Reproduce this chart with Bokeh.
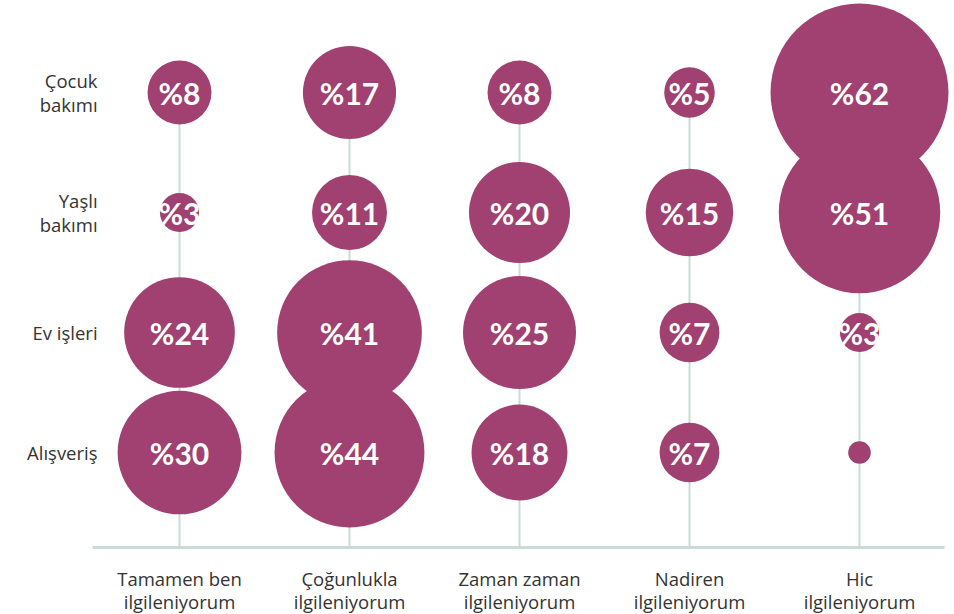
import math
from bokeh.plotting import figure
from bokeh.models import Range1d, ColumnDataSource
from bokeh.core.properties import value
from bokeh.embed import file_html
from bokeh.resources import INLINE

# ---- data ----
columns = ["Tamamen ben\nilgileniyorum", "Çoğunlukla\nilgileniyorum", "Zaman zaman\nilgileniyorum",
           "Nadiren\nilgileniyorum", "Hic\nilgileniyorum"]
rows = ["Çocuk\nbakımı", "Yaşlı\nbakımı", "Ev işleri", "Alışveriş"]
cocuk = [8, 17, 8, 5, 62]
yasli = [3, 11, 20, 15, 51]
ev = [24, 41, 25, 7, 3]
alisveris = [30, 44, 18, 7, 1]
series = [cocuk, yasli, ev, alisveris]

BUBBLE = "#a04171"
LINE = "#c9ddd3"
TEXT = "#333333"
FONT = "Open Sans"
BFONT = "Lato"

W, H = 950, 614
COL_PX0, COL_STEP = 179, 170
ROW_PX0, ROW_STEP = 92, 120

p = figure(width=W, height=H, output_backend="svg", toolbar_location=None,
           x_range=Range1d(-COL_PX0 / COL_STEP, (W - COL_PX0) / COL_STEP),
           y_range=Range1d((H - ROW_PX0) / ROW_STEP, -ROW_PX0 / ROW_STEP),
           min_border=0, outline_line_color=None)
p.axis.visible = False
p.grid.visible = False
p.background_fill_color = "white"
p.border_fill_color = "white"

axis_y = 455 / ROW_STEP  # baseline position in row units

# vertical guide lines
xs = list(range(len(columns)))
p.segment(x0=xs, y0=[0] * len(xs), x1=xs, y1=[axis_y] * len(xs), line_color=LINE, line_width=2)
# baseline
p.segment(x0=[-0.512], y0=[axis_y], x1=[4.5], y1=[axis_y], line_color=LINE, line_width=3)

# bubbles
bx, by, bs, bl = [], [], [], []
for r, vals in enumerate(series):
    for c, v in enumerate(vals):
        bx.append(c)
        by.append(r)
        bs.append(22.6 * math.sqrt(v))
        bl.append("%" + str(v) if v >= 2 else "")
src = ColumnDataSource(dict(x=bx, y=by, size=bs, label=bl))
p.scatter(x="x", y="y", size="size", source=src, fill_color=BUBBLE, line_color=None)
p.text(x="x", y="y", text="label", source=src, text_color="white", text_font=value(BFONT),
       text_font_style="bold", text_font_size="30px", text_align="center", text_baseline="middle")

# row labels
p.text(x=[-0.482] * len(rows), y=list(range(len(rows))), text=rows, text_color=TEXT,
       text_font=value(FONT), text_font_size="18.5px", text_align="right", text_baseline="middle",
       text_line_height=0.93)

# column labels
p.text(x=xs, y=[axis_y + 0.15] * len(xs), text=columns, text_color=TEXT,
       text_font=value(FONT), text_font_size="18.5px", text_align="center", text_baseline="top",
       text_line_height=0.93)

open("out.html", "w").write(file_html(p, INLINE))
